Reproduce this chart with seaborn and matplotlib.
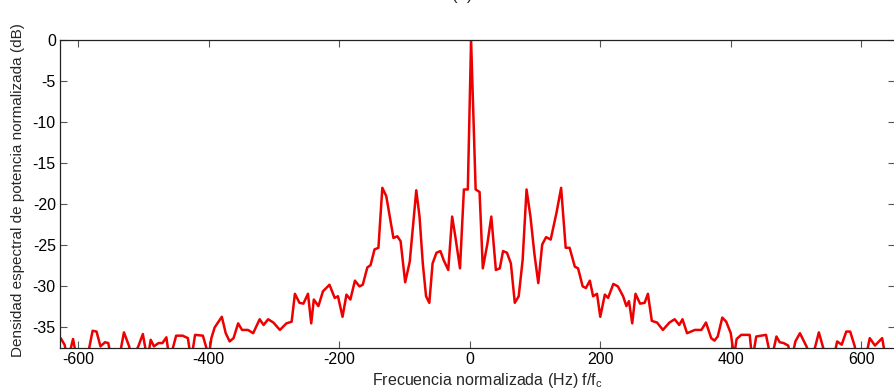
import matplotlib
matplotlib.use("Agg")
import matplotlib.pyplot as plt
import seaborn as sns
import pandas as pd

# Frequency (normalized) and PSD (dB) vertices
freq = [-627, -621, -616, -608, -602, -587, -578, -572, -566, -559, -554, -549, -538,
        -530, -522, -518, -508, -501, -494, -489, -484, -477, -471, -465, -460, -450,
        -440, -432, -427, -421, -409, -400, -396, -391, -380, -374, -368, -362, -355,
        -349, -340, -332, -322, -316, -309, -301, -291, -281, -273, -268, -261, -255,
        -248, -243, -239, -232, -225, -215, -207, -202, -195, -189, -183, -176, -169,
        -164, -157, -152, -146, -140, -134, -128, -117, -111, -106, -99, -92, -82, -77,
        -72, -67, -62, -57, -51, -45, -40, -33, -27, -22, -15, -9, -3, 2, 9, 15, 20,
        27, 33, 40, 46, 51, 57, 63, 69, 75, 81, 87, 93, 99, 105, 111, 117, 124, 133,
        140, 147, 153, 161, 166, 173, 178, 184, 189, 195, 200, 207, 212, 220, 227, 235,
        240, 244, 249, 254, 261, 268, 273, 279, 287, 296, 306, 314, 321, 326, 333, 345,
        355, 362, 370, 375, 380, 387, 393, 400, 405, 409, 416, 429, 433, 439, 454, 462,
        470, 475, 481, 488, 493, 499, 506, 516, 524, 535, 547, 557, 563, 570, 577, 583,
        590, 593, 606, 613, 621, 632, 638, 650]
psd_db = [-36.3, -37.1, -39.0, -36.4, -39.0, -39.0, -35.4, -35.5, -37.3, -36.8, -36.9, -39.0, -39.0,
          -35.6, -37.3, -39.0, -37.3, -35.8, -39.0, -36.5, -37.3, -36.9, -36.9, -36.2, -39.0, -36.0,
          -36.0, -36.3, -39.0, -35.9, -36.0, -38.5, -36.3, -35.0, -33.7, -35.7, -36.7, -36.3, -34.5,
          -35.3, -35.3, -35.7, -34.0, -34.7, -34.0, -34.4, -35.3, -34.5, -34.3, -30.9, -32.0, -32.1,
          -30.9, -34.5, -31.6, -32.4, -30.6, -29.8, -31.4, -31.2, -33.7, -31.0, -31.6, -29.3, -30.0,
          -29.8, -27.7, -27.4, -25.5, -25.3, -18.0, -19.0, -24.1, -23.9, -24.5, -29.5, -27.0, -18.3, -21.5,
          -27.2, -31.2, -32.0, -27.2, -25.9, -25.7, -26.8, -28.0, -21.5, -24.0, -27.8, -18.2, -18.2, 0.0, -18.2, -18.5, -27.8,
          -24.8, -21.5, -28.0, -27.8, -25.7, -25.9, -27.2, -32.0, -31.2, -26.8, -18.2, -21.5, -26.0, -29.6, -24.9, -24.0, -24.3, -21.0,
          -18.0, -25.3, -25.3, -27.6, -27.8, -30.0, -30.2, -29.3, -31.2, -30.9, -33.7, -31.0, -31.4, -29.7, -30.0, -31.2,
          -32.4, -31.8, -34.5, -30.9, -32.1, -32.0, -30.9, -34.2, -34.4, -35.3, -34.4, -34.0, -34.7, -34.0, -35.7, -35.3,
          -35.3, -34.4, -36.3, -36.6, -36.1, -33.8, -34.3, -35.7, -38.5, -36.4, -35.9, -35.9, -39.0, -36.1, -35.9, -39.0,
          -36.1, -36.8, -36.9, -37.2, -39.0, -36.7, -35.7, -37.3, -39.0, -35.6, -39.0, -39.0, -36.7, -37.1, -35.5, -35.5,
          -37.3, -39.0, -39.0, -36.3, -37.2, -36.3, -39.0, -39.0]

xticks = [-600, -400, -200, 0, 200, 400, 600]
yticks = [0, -5, -10, -15, -20, -25, -30, -35]

sns.set_style("ticks")
plt.rcParams['font.family'] = ['Liberation Sans', 'DejaVu Sans']

df = pd.DataFrame({"f": freq, "psd": psd_db})

fig = plt.figure(figsize=(8.95, 3.92), dpi=100)
ax = fig.add_axes([60 / 895, 1 - 348 / 392, 1 - 60 / 895 - 0.0005, (348 - 40) / 392])

sns.lineplot(data=df, x="f", y="psd", ax=ax, color=(0.93, 0.0, 0.0), lw=1.8,
             sort=False, estimator=None, legend=False)

ax.set_xlim(-628, 651)
ax.set_ylim(-37.5, 0)
ax.set_xticks(xticks)
ax.set_xticklabels([str(t) for t in xticks])
ax.set_yticks(yticks)
ax.set_yticklabels([str(t) for t in yticks])
ax.tick_params(direction='in', length=5, width=0.8, color='#555555', labelsize=11.5,
               top=True, right=True, labelcolor='black', pad=3)
for s in ax.spines.values():
    s.set_visible(True)
    s.set_color('#222222')
    s.set_linewidth(0.9)

ax.set_xlabel(r'Frecuencia normalizada (Hz) f/f$_{\mathregular{c}}$', fontsize=11.5)
ax.set_ylabel('Densidad espectral de potencia normalizada (dB)', fontsize=11)
ax.xaxis.set_label_coords((488 - 60) / 835, -0.075)
ax.yaxis.set_label_coords((25 - 60) / 835, (348 - 190) / 308)

fig.text(462 / 895, 1.0, '(b)', ha='center', va='baseline', fontsize=12)

fig.savefig("out.png", dpi=100)
